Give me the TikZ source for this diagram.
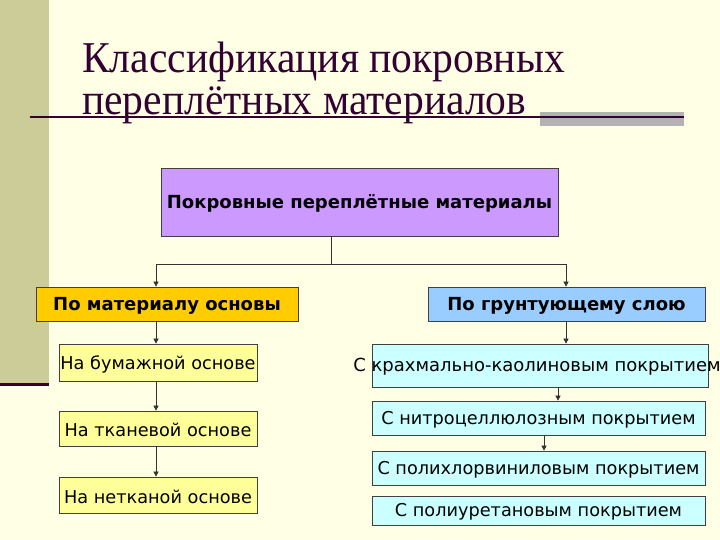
\documentclass[tikz,border=0pt]{standalone}
\usepackage{fontspec}
\setmainfont{Liberation Serif}
\newfontfamily\titlefont[FakeStretch=0.945]{Liberation Serif}
\newfontfamily\boxfont{DejaVu Sans}
\usetikzlibrary{arrows.meta}
\definecolor{bgc}{HTML}{FFFFE6}
\definecolor{barc}{HTML}{CCCC99}
\definecolor{darkp}{HTML}{330033}
\definecolor{grayb}{HTML}{B3B3B3}
\definecolor{purpc}{HTML}{CC99FF}
\definecolor{goldc}{HTML}{FFCC00}
\definecolor{bluec}{HTML}{99CCFF}
\definecolor{paley}{HTML}{FFFF99}
\definecolor{cyanc}{HTML}{CCFFFF}
\newcommand{\boxtext}[1]{\makebox[0pt]{\raisebox{-1.5pt}[\height][\depth]{#1}}}
\tikzset{
  box/.style={draw=black!75, line width=0.7pt, inner sep=0pt, font=\boxfont\fontsize{17.7}{20}\selectfont, text=black},
  boldbox/.style={box, font=\boxfont\bfseries\fontsize{18}{20}\selectfont},
  conn/.style={draw=black!80, line width=0.6pt},
  arr/.style={conn, -{Triangle[length=5pt,width=5pt]}},
}
\begin{document}
\begin{tikzpicture}[x=1pt,y=-1pt]
\useasboundingbox (0,0) rectangle (720,540);
\fill[bgc] (0,0) rectangle (720,540);
\fill[barc] (0,0) rectangle (49,384);
\fill[darkp] (0,382.5) rectangle (49,385.5);
\fill[grayb] (540,112) rectangle (684,126);
\draw[darkp, line width=1.2pt] (30,117) -- (684,117);
\node[anchor=base west, inner sep=0pt, text=darkp, font=\titlefont\fontsize{44}{47}\selectfont] (t1) at (82,72.5) {Классификация покровных};
\node[anchor=base west, inner sep=0pt, text=darkp, font=\titlefont\fontsize{44}{47}\selectfont] (t2) at (82,115) {переплётных материалов};

\node[boldbox, fill=purpc, minimum width=397pt, minimum height=68pt] (top) at (359.5,202) {\boxtext{Покровные переплётные материалы}};
\node[boldbox, fill=goldc, minimum width=262pt, minimum height=34pt] (mat) at (167,304) {\boxtext{По материалу основы}};
\node[boldbox, fill=bluec, minimum width=277pt, minimum height=34pt] (grn) at (566.5,304) {\boxtext{По грунтующему слою}};

\node[box, fill=paley, minimum width=198pt, minimum height=37pt] (a1) at (158,362.5) {\boxtext{На бумажной основе}};
\node[box, fill=paley, minimum width=198pt, minimum height=35pt] (a2) at (158,428.5) {\boxtext{На тканевой основе}};
\node[box, fill=paley, minimum width=198pt, minimum height=36pt] (a3) at (158,495) {\boxtext{На нетканой основе}};

\node[box, fill=cyanc, minimum width=336pt, minimum height=43pt] (b1) at (540,365.5) {\boxtext{\hspace*{-6pt}\fontsize{18}{20}\selectfont С крахмально-каолиновым покрытием}};
\node[box, fill=cyanc, minimum width=333pt, minimum height=34pt] (b2) at (538.5,418) {\boxtext{С нитроцеллюлозным покрытием}};
\node[box, fill=cyanc, minimum width=333pt, minimum height=34pt] (b3) at (538.5,468) {\boxtext{С полихлорвиниловым покрытием}};
\node[box, fill=cyanc, minimum width=333pt, minimum height=29pt] (b4) at (538.5,510.5) {\boxtext{С полиуретановым покрытием}};

\coordinate (j) at (331,264);
\draw[conn] (top.south -| j) -- (j);
\draw[arr] (j) -- (156,264) -- (mat.north -| 156,0);
\draw[arr] (j) -- (566,264) -- (grn.north -| 566,0);
\draw[arr] (mat.south -| 156,0) -- (a1.north -| 156,0);
\draw[arr] (a1.south -| 156,0) -- (a2.north -| 156,0);
\draw[arr] (a2.south -| 156,0) -- (a3.north -| 156,0);
\draw[arr] (grn.south -| 566,0) -- (b1.north -| 566,0);
\draw[arr] (b1.south -| 558,0) -- (b2.north -| 558,0);
\draw[arr] (b2.south -| 544,0) -- (b3.north -| 544,0);
\end{tikzpicture}
\end{document}
